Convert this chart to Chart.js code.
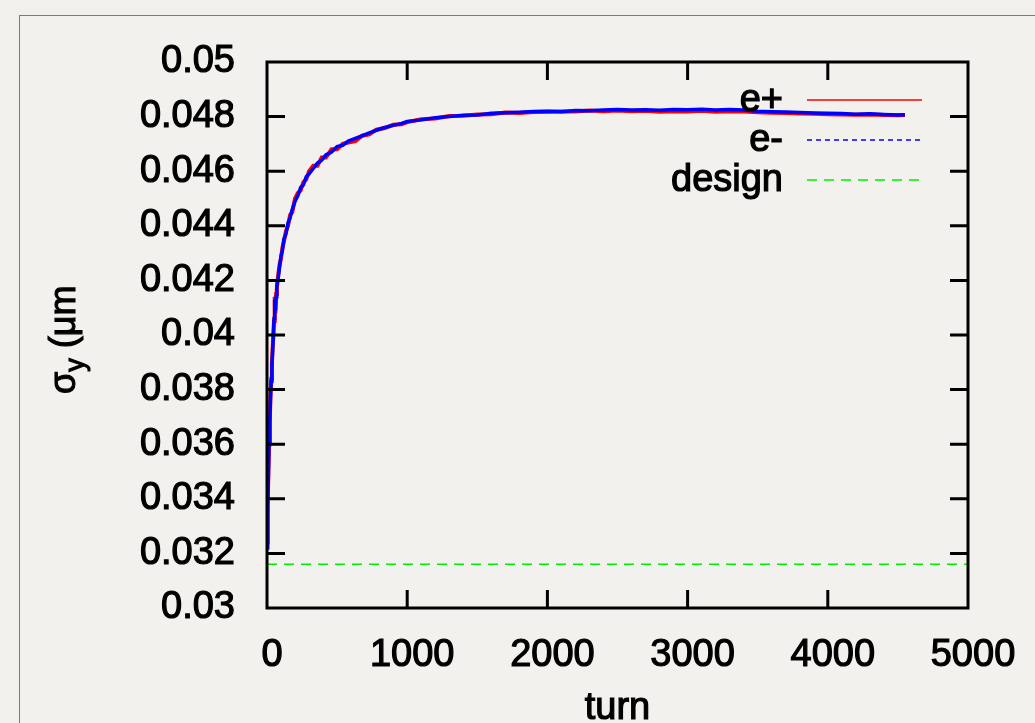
<!DOCTYPE html>
<html>
<head>
<meta charset="utf-8">
<script src="https://cdn.jsdelivr.net/npm/chart.js@4.4.1/dist/chart.umd.min.js"></script>
<style>
  html, body { margin: 0; padding: 0; overflow: hidden; background: #f2f0ec; }
  #frame { position: absolute; left: 19px; top: 15px; width: 1100px; height: 800px; border: 1.5px solid #7a7a7a; background: #f3f1ed; }
  #wrap { position: absolute; left: 0; top: 0; width: 1035px; height: 723px; }
</style>
</head>
<body>
<div id="frame"></div>
<div id="wrap"><canvas id="sigmaChart"></canvas></div>
<script>
// sigma_y vs turn
var turns = [0, 5, 10, 15, 20, 25, 30, 35, 40, 45, 50, 55, 60, 65, 70, 80, 90, 100, 110, 120,
    135, 150, 165, 180, 200, 220, 240, 260, 280, 300, 330, 360, 390, 420, 460, 500, 540, 580,
    630, 680, 730, 780, 840, 900, 960, 1000, 1100, 1200, 1300, 1400, 1500, 1600, 1700, 1800,
    1900, 2000, 2100, 2200, 2300, 2400, 2500, 2600, 2700, 2800, 2900, 3000, 3100, 3200, 3300,
    3400, 3500, 3600, 3700, 3800, 3900, 4000, 4100, 4200, 4300, 4400, 4500, 4550];

// e- (blue)
var eMinus = [0.0322, 0.0336, 0.0349, 0.0361, 0.0368, 0.0377, 0.0383, 0.0389, 0.0394, 0.0399,
    0.0406, 0.0413, 0.0409, 0.0414, 0.0418, 0.0421, 0.0425, 0.0429, 0.0431, 0.0435,
    0.0437, 0.0441, 0.0443, 0.0446, 0.0449, 0.0451, 0.0454, 0.0455, 0.0458, 0.0459,
    0.0461, 0.0463, 0.0464, 0.0466, 0.0467, 0.0469, 0.04695, 0.0471, 0.0472, 0.0473,
    0.0474, 0.0475, 0.0476, 0.04768, 0.04775, 0.04782, 0.04788, 0.04796, 0.04800, 0.04805,
    0.04806, 0.04812, 0.04814, 0.04816, 0.04819, 0.04820, 0.04818, 0.04822, 0.04821, 0.04824,
    0.04826, 0.04824, 0.04825, 0.04823, 0.04826, 0.04825, 0.04827, 0.04824, 0.04826, 0.04824,
    0.04820, 0.04818, 0.04817, 0.04815, 0.04813, 0.04812, 0.04811, 0.04809, 0.04810, 0.04808,
    0.04806, 0.04807];

// e+ (red)
var ePlus = [0.0324, 0.0338, 0.0350, 0.0360, 0.0369, 0.0378, 0.0384, 0.0390, 0.0395, 0.0400,
    0.0405, 0.0414, 0.0408, 0.0415, 0.0417, 0.0422, 0.0426, 0.0428, 0.0432, 0.0434,
    0.0438, 0.0440, 0.0444, 0.0445, 0.0450, 0.0452, 0.0453, 0.0456, 0.0457, 0.0460,
    0.0462, 0.0462, 0.0465, 0.0465, 0.0468, 0.0468, 0.0470, 0.04705, 0.0471, 0.0473,
    0.04735, 0.04752, 0.04758, 0.0477, 0.04772, 0.0478, 0.04790, 0.04793, 0.04802, 0.04803,
    0.04808, 0.04809, 0.04815, 0.04813, 0.04817, 0.04818, 0.04819, 0.04819, 0.04822, 0.04820,
    0.04822, 0.04820, 0.04821, 0.04818, 0.04820, 0.04819, 0.04821, 0.04818, 0.04820, 0.04819,
    0.04816, 0.04814, 0.04813, 0.04811, 0.04810, 0.04809, 0.04808, 0.04807, 0.04808, 0.04806,
    0.04805, 0.04806];

// design value
var designTurns = [0, 5000];
var designSigma = [0.0316, 0.0316];

var yTicks = [0.03, 0.032, 0.034, 0.036, 0.038, 0.04, 0.042, 0.044, 0.046, 0.048, 0.05];
var xTicks = [0, 1000, 2000, 3000, 4000, 5000];

var FONT = "'Liberation Sans', Arial, Helvetica, sans-serif";

function pts(xs, ys) {
    return xs.map(function (x, i) { return { x: x, y: ys[i] }; });
}

// legend dash styles, same order as datasets
var legendDash = [[], [5, 4], [10, 7]];

function boldText(ctx, text, x, y) {
    ctx.fillText(text, x, y);
    ctx.strokeText(text, x, y);
}

// frame, inward ticks, legend and axis titles (gnuplot look)
var gnuplotFrame = {
    id: 'gnuplotFrame',
    afterDatasetsDraw: function (chart) {
        var ctx = chart.ctx;
        var a = chart.chartArea;
        var xs = chart.scales.x, ys = chart.scales.y;
        var tl = 18;
        ctx.save();
        ctx.strokeStyle = '#000';
        ctx.lineWidth = 3;
        ctx.setLineDash([]);
        ctx.beginPath();
        xTicks.forEach(function (v) {
            var px = xs.getPixelForValue(v);
            if (v === xTicks[0] || v === xTicks[xTicks.length - 1]) return;
            ctx.moveTo(px, a.bottom); ctx.lineTo(px, a.bottom - tl);
            ctx.moveTo(px, a.top); ctx.lineTo(px, a.top + tl);
        });
        yTicks.forEach(function (v) {
            var py = ys.getPixelForValue(v);
            if (v === yTicks[0] || v === yTicks[yTicks.length - 1]) return;
            ctx.moveTo(a.left, py); ctx.lineTo(a.left + tl, py);
            ctx.moveTo(a.right, py); ctx.lineTo(a.right - tl, py);
        });
        ctx.stroke();
        ctx.strokeRect(a.left, a.top, a.right - a.left, a.bottom - a.top);

        // legend
        ctx.font = '38px ' + FONT;
        ctx.textAlign = 'right';
        ctx.textBaseline = 'middle';
        chart.data.datasets.forEach(function (ds, i) {
            var y = 100 + i * 40;
            ctx.fillStyle = '#000';
            ctx.strokeStyle = '#000';
            ctx.lineWidth = 1.2;
            ctx.setLineDash([]);
            boldText(ctx, ds.label, 783, y + 1);
            ctx.strokeStyle = ds.borderColor;
            ctx.lineWidth = 1.6;
            ctx.setLineDash(legendDash[i]);
            ctx.beginPath();
            ctx.moveTo(807, y); ctx.lineTo(922, y);
            ctx.stroke();
        });
        ctx.setLineDash([]);

        // x title
        ctx.fillStyle = '#000';
        ctx.strokeStyle = '#000';
        ctx.lineWidth = 1.2;
        ctx.textAlign = 'center';
        ctx.textBaseline = 'alphabetic';
        ctx.font = '38px ' + FONT;
        boldText(ctx, 'turn', (a.left + a.right) / 2, 719);

        // y title: sigma_y (um
        ctx.translate(75, 336);
        ctx.rotate(-Math.PI / 2);
        ctx.lineWidth = 1.1;
        ctx.textAlign = 'left';
        var x0 = -58;
        ctx.font = '36px ' + FONT;
        boldText(ctx, 'σ', x0, 0);
        x0 += ctx.measureText('σ').width;
        ctx.font = '27px ' + FONT;
        boldText(ctx, 'y', x0, 9);
        x0 += ctx.measureText('y').width;
        ctx.font = '36px ' + FONT;
        boldText(ctx, ' (μm', x0, 0);
        ctx.restore();
    }
};

var ctx = document.getElementById('sigmaChart').getContext('2d');

var sigmaChart = new Chart(ctx, {
    type: 'line',
    data: {
        datasets: [{
            label: 'e+',
            data: pts(turns, ePlus),
            borderColor: '#ff0000',
            borderWidth: 4,
            pointRadius: 0,
            tension: 0,
            order: 2
        },
        {
            label: 'e-',
            data: pts(turns, eMinus),
            borderColor: '#0000ff',
            borderWidth: 3.5,
            pointRadius: 0,
            tension: 0,
            order: 1
        },
        {
            label: 'design',
            data: pts(designTurns, designSigma),
            borderColor: '#00ee00',
            borderWidth: 1.6,
            borderDash: [10, 7],
            pointRadius: 0,
            order: 3
        }]
    },
    options: {
        responsive: true,
        maintainAspectRatio: false,
        animation: false,
        layout: {
            padding: { left: 0, right: 67, top: 62, bottom: 0 }
        },
        plugins: {
            legend: { display: false },
            tooltip: { enabled: false }
        },
        scales: {
            x: {
                type: 'linear',
                min: 0,
                max: 5000,
                afterBuildTicks: function (scale) {
                    scale.ticks = xTicks.map(function (v) { return { value: v }; });
                },
                afterFit: function (scale) { scale.height = 115; },
                grid: { display: false },
                border: { display: false },
                ticks: {
                    color: '#000',
                    padding: 17,
                    labelOffset: 5,
                    maxRotation: 0,
                    textStrokeColor: '#000',
                    textStrokeWidth: 1.2,
                    font: { family: FONT, size: 38 },
                    callback: function (v) { return String(v); }
                }
            },
            y: {
                type: 'linear',
                min: 0.03,
                max: 0.05,
                afterBuildTicks: function (scale) {
                    scale.ticks = yTicks.map(function (v) { return { value: v }; });
                },
                afterFit: function (scale) { scale.width = 267; },
                grid: { display: false },
                border: { display: false },
                ticks: {
                    color: '#000',
                    padding: 24,
                    textStrokeColor: '#000',
                    textStrokeWidth: 1.2,
                    font: { family: FONT, size: 38 },
                    callback: function (v) { return String(parseFloat(v.toFixed(3))); }
                }
            }
        }
    },
    plugins: [gnuplotFrame]
});
</script>
</body>
</html>
